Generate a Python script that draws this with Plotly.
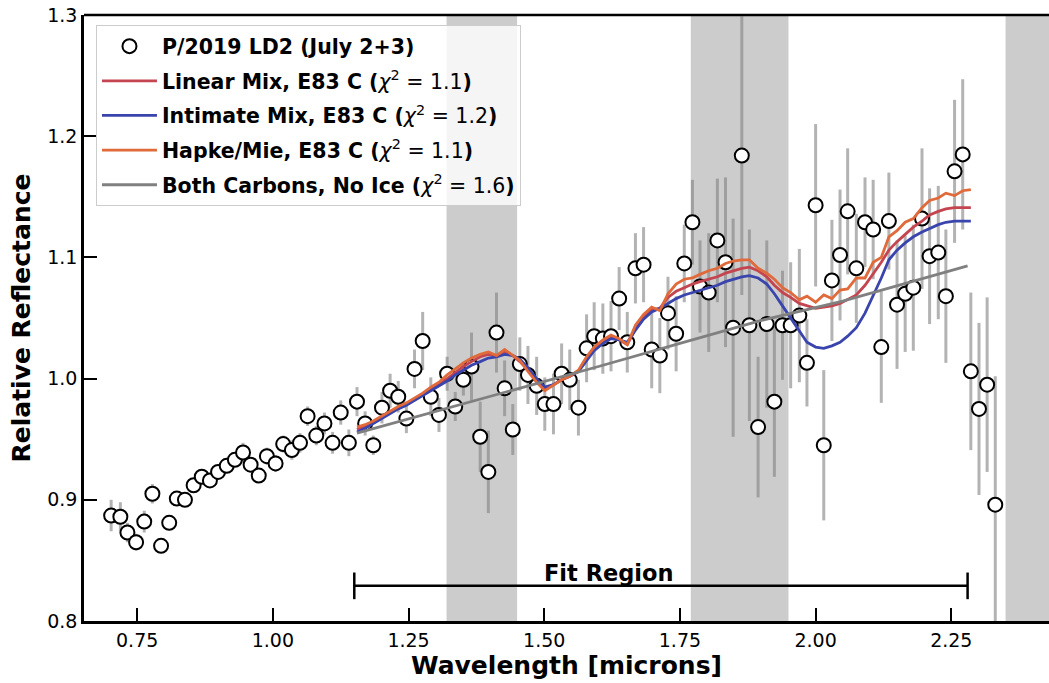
import plotly.graph_objects as go

# ---------------- data ----------------
wavelength = [
    0.702, 0.719, 0.732, 0.748, 0.763, 0.778, 0.794, 0.809, 0.823, 0.838,
    0.854, 0.869, 0.884, 0.899, 0.915, 0.930, 0.945, 0.959, 0.974, 0.989,
    1.005, 1.019, 1.035, 1.050, 1.064, 1.080, 1.095, 1.110, 1.125, 1.140,
    1.155, 1.170, 1.185, 1.201, 1.216, 1.231, 1.246, 1.261, 1.276, 1.291,
    1.306, 1.321, 1.336, 1.351, 1.366, 1.382, 1.397, 1.412, 1.427, 1.442,
    1.455, 1.470, 1.486, 1.501, 1.517, 1.532, 1.547, 1.563, 1.578, 1.592,
    1.608, 1.623, 1.638, 1.653, 1.668, 1.683, 1.698, 1.713, 1.728, 1.743,
    1.758, 1.773, 1.787, 1.803, 1.819, 1.834, 1.848, 1.864, 1.878, 1.894,
    1.910, 1.924, 1.939, 1.954, 1.970, 1.984, 2.000, 2.015, 2.030, 2.045,
    2.059, 2.075, 2.091, 2.106, 2.121, 2.135, 2.150, 2.165, 2.180, 2.196,
    2.210, 2.226, 2.240, 2.256, 2.271, 2.286, 2.301, 2.316, 2.331,
]
reflectance = [
    0.887, 0.886, 0.873, 0.865, 0.882, 0.905, 0.862, 0.881, 0.901, 0.900,
    0.912, 0.919, 0.916, 0.923, 0.928, 0.933, 0.939, 0.929, 0.920, 0.936,
    0.930, 0.946, 0.941, 0.947, 0.969, 0.953, 0.963, 0.947, 0.972, 0.947,
    0.981, 0.963, 0.945, 0.976, 0.990, 0.985, 0.967, 1.008, 1.031, 0.985,
    0.970, 1.004, 0.977, 0.999, 1.010, 0.952, 0.923, 1.038, 0.992, 0.958,
    1.012, 1.003, 0.994, 0.979, 0.979, 1.004, 0.999, 0.976, 1.025, 1.035,
    1.033, 1.035, 1.066, 1.030, 1.091, 1.094, 1.024, 1.019, 1.054, 1.037,
    1.095, 1.129, 1.076, 1.071, 1.114, 1.096, 1.042, 1.184, 1.044, 0.960,
    1.045, 0.981, 1.044, 1.044, 1.052, 1.013, 1.143, 0.945, 1.081, 1.102,
    1.138, 1.091, 1.129, 1.123, 1.026, 1.130, 1.061, 1.070, 1.075, 1.132,
    1.101, 1.104, 1.068, 1.171, 1.185, 1.006, 0.975, 0.995, 0.896,
]
refl_error = [
    0.013, 0.012, 0.008, 0.007, 0.009, 0.008, 0.006, 0.006, 0.006, 0.005,
    0.005, 0.005, 0.005, 0.005, 0.005, 0.005, 0.008, 0.006, 0.006, 0.007,
    0.007, 0.007, 0.008, 0.008, 0.008, 0.008, 0.009, 0.009, 0.010, 0.011,
    0.012, 0.010, 0.008, 0.013, 0.014, 0.013, 0.012, 0.016, 0.024, 0.016,
    0.014, 0.014, 0.012, 0.013, 0.028, 0.029, 0.034, 0.033, 0.023, 0.021,
    0.022, 0.024, 0.024, 0.022, 0.025, 0.025, 0.025, 0.023, 0.028, 0.028,
    0.029, 0.029, 0.026, 0.025, 0.029, 0.031, 0.032, 0.031, 0.030, 0.031,
    0.032, 0.035, 0.038, 0.049, 0.051, 0.070, 0.090, 0.115, 0.079, 0.058,
    0.069, 0.062, 0.045, 0.052, 0.055, 0.036, 0.067, 0.062, 0.050, 0.054,
    0.052, 0.045, 0.037, 0.041, 0.046, 0.040, 0.053, 0.048, 0.052, 0.058,
    0.056, 0.055, 0.055, 0.059, 0.062, 0.065, 0.071, 0.072, 0.106,
]

# model wavelengths = data grid inside the fit region
model_wl = wavelength[30:106]
linear_mix = [
    0.958, 0.961, 0.964, 0.968, 0.972, 0.976, 0.979, 0.983, 0.987, 0.991,
    0.995, 1.000, 1.005, 1.010, 1.014, 1.018, 1.020, 1.019, 1.022, 1.019,
    1.014, 1.007, 0.998, 0.991, 0.995, 0.999, 1.002, 1.006, 1.016, 1.024,
    1.030, 1.034, 1.032, 1.028, 1.041, 1.050, 1.057, 1.058, 1.067, 1.072,
    1.075, 1.078, 1.080, 1.082, 1.084, 1.087, 1.089, 1.091, 1.092, 1.089,
    1.084, 1.077, 1.071, 1.067, 1.062, 1.060, 1.058, 1.059, 1.060, 1.062,
    1.065, 1.069, 1.077, 1.086, 1.096, 1.106, 1.113, 1.119, 1.125, 1.130,
    1.135, 1.138, 1.140, 1.141, 1.141, 1.141,
]
intimate_mix = [
    0.956, 0.959, 0.963, 0.967, 0.971, 0.975, 0.978, 0.982, 0.986, 0.990,
    0.994, 0.998, 1.003, 1.007, 1.011, 1.014, 1.017, 1.018, 1.020, 1.019,
    1.016, 1.009, 1.000, 0.993, 0.995, 0.999, 1.002, 1.006, 1.015, 1.023,
    1.029, 1.033, 1.032, 1.030, 1.040, 1.049, 1.055, 1.058, 1.062, 1.066,
    1.069, 1.071, 1.073, 1.075, 1.077, 1.080, 1.082, 1.084, 1.085, 1.083,
    1.078, 1.070, 1.060, 1.050, 1.040, 1.030, 1.026, 1.025, 1.027, 1.030,
    1.035, 1.042, 1.054, 1.068, 1.083, 1.098, 1.106, 1.112, 1.117, 1.121,
    1.124, 1.127, 1.129, 1.130, 1.130, 1.130,
]
hapke_mie = [
    0.960, 0.962, 0.965, 0.969, 0.973, 0.977, 0.980, 0.984, 0.988, 0.993,
    0.997, 1.003, 1.008, 1.013, 1.017, 1.020, 1.022, 1.019, 1.024, 1.019,
    1.015, 1.006, 0.997, 0.990, 0.995, 0.999, 1.002, 1.007, 1.018, 1.026,
    1.032, 1.036, 1.033, 1.028, 1.044, 1.053, 1.059, 1.056, 1.070, 1.078,
    1.082, 1.083, 1.086, 1.089, 1.091, 1.095, 1.097, 1.098, 1.098, 1.091,
    1.087, 1.082, 1.075, 1.071, 1.065, 1.068, 1.063, 1.069, 1.066, 1.073,
    1.074, 1.083, 1.083, 1.096, 1.100, 1.117, 1.122, 1.129, 1.132, 1.141,
    1.147, 1.149, 1.153, 1.151, 1.155, 1.156,
]
no_ice_wl = [1.155, 1.30, 1.45, 1.60, 1.75, 1.90, 2.05, 2.20, 2.28]
no_ice = [0.955, 0.973, 0.991, 1.010, 1.029, 1.048, 1.064, 1.083, 1.093]

telluric_bands = [(1.32, 1.45), (1.77, 1.95), (2.35, 2.50)]
fit_region = (1.15, 2.28)

xtick_vals = [0.75, 1.00, 1.25, 1.50, 1.75, 2.00, 2.25]
xtick_text = ["0.75", "1.00", "1.25", "1.50", "1.75", "2.00", "2.25"]
ytick_vals = [0.8, 0.9, 1.0, 1.1, 1.2, 1.3]
ytick_text = ["0.8", "0.9", "1.0", "1.1", "1.2", "1.3"]

# ---------------- figure ----------------
FONT = "DejaVu Sans"
fig = go.Figure()

fig.add_trace(go.Scatter(
    x=wavelength, y=reflectance, mode="markers",
    name="<b>P/2019 LD2 (July 2+3)</b>", legendgroup="g0",
    marker=dict(symbol="circle", size=14, color="white",
                line=dict(color="black", width=2)),
    error_y=dict(type="data", array=refl_error, visible=True,
                 color="rgba(128,128,128,0.6)", thickness=3, width=0),
))

models = [
    ("<b>Linear Mix, E83 C (</b><i>χ</i><sup>2</sup> = 1.1<b>)</b>", model_wl, linear_mix, "#c4444f"),
    ("<b>Intimate Mix, E83 C (</b><i>χ</i><sup>2</sup> = 1.2<b>)</b>", model_wl, intimate_mix, "#3a44ad"),
    ("<b>Hapke/Mie, E83 C (</b><i>χ</i><sup>2</sup> = 1.1<b>)</b>", model_wl, hapke_mie, "#e06a3a"),
    ("<b>Both Carbons, No Ice (</b><i>χ</i><sup>2</sup> = 1.6<b>)</b>", no_ice_wl, no_ice, "#808080"),
]
for i, (name, xs, ys, col) in enumerate(models):
    fig.add_trace(go.Scatter(x=xs, y=ys, mode="lines", name=name,
                             legendgroup=f"g{i + 1}",
                             line=dict(color=col, width=2.8)))

shapes = []
# fit region bracket (drawn below the telluric bands)
fit_y = 0.829
shapes.append(dict(type="line", xref="x", yref="y", x0=fit_region[0], x1=fit_region[1],
                   y0=fit_y, y1=fit_y, line=dict(color="black", width=2.5), layer="below"))
for xe in fit_region:
    shapes.append(dict(type="line", xref="x", yref="y", x0=xe, x1=xe,
                       y0=fit_y - 0.011, y1=fit_y + 0.011,
                       line=dict(color="black", width=2.5), layer="below"))
for a, b in telluric_bands:
    shapes.append(dict(type="rect", xref="x", yref="paper", x0=a, x1=b, y0=0, y1=1,
                       fillcolor="#cccccc", line=dict(width=0), layer="below"))
# top spine
shapes.append(dict(type="line", xref="paper", yref="paper", x0=0, x1=1, y0=1, y1=1,
                   line=dict(color="black", width=2.5), layer="above"))

fig.update_layout(
    width=1049, height=683,
    margin=dict(l=84, r=0, t=15, b=62),
    paper_bgcolor="white", plot_bgcolor="white",
    font=dict(family=FONT, color="black"),
    shapes=shapes,
    annotations=[dict(x=1.62, y=0.8395, xref="x", yref="y", text="<b>Fit Region</b>",
                      showarrow=False, font=dict(size=22.5, family=FONT, color="black"))],
    legend=dict(x=0.0124, y=0.983, xanchor="left", yanchor="top",
                bgcolor="rgba(255,255,255,0.8)", bordercolor="#cccccc", borderwidth=1,
                traceorder="grouped", tracegroupgap=5, itemwidth=55,
                font=dict(size=20.5, family=FONT, color="black")),
    showlegend=True,
    hovermode=False,
)
fig.update_xaxes(
    range=[0.652, 2.43], tickvals=xtick_vals, ticktext=xtick_text,
    ticks="inside", ticklen=13, tickwidth=2, tickcolor="black",
    showline=True, linewidth=2.5, linecolor="black", ticklabeloverflow="allow",
    showgrid=False, zeroline=False, tickfont=dict(size=19, family=FONT),
    title=dict(text="<b>Wavelength [microns]</b>", font=dict(size=25, family=FONT), standoff=5),
)
fig.update_yaxes(
    range=[0.8, 1.3], tickvals=ytick_vals, ticktext=ytick_text,
    ticks="inside", ticklen=13, tickwidth=2, tickcolor="black",
    showline=True, linewidth=2.5, linecolor="black", ticklabeloverflow="allow",
    showgrid=False, zeroline=False, tickfont=dict(size=19, family=FONT),
    title=dict(text="<b>Relative Reflectance</b>", font=dict(size=25, family=FONT), standoff=10),
)

# remove the default 8px page margin so the figure fills the window exactly
fig.write_html(
    "out.html",
    config={"displayModeBar": False},
    post_script=("document.body.style.margin='0';"
                 "document.body.style.overflow='hidden';"
                 "document.documentElement.style.overflow='hidden';"),
)
